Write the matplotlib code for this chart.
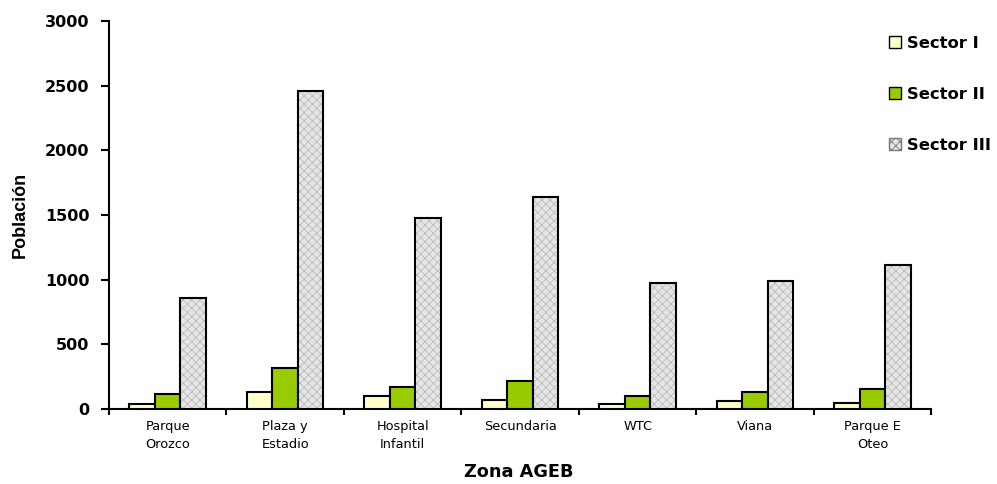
import matplotlib
matplotlib.use("Agg")
import matplotlib.pyplot as plt
import numpy as np
from matplotlib.patches import Patch

categories = ["Parque\nOrozco", "Plaza y\nEstadio", "Hospital\nInfantil", "Secundaria", "WTC", "Viana", "Parque E\nOteo"]
series_names = ["Sector I", "Sector II", "Sector III"]
sector1 = [35, 131, 97, 72, 36, 59, 46]
sector2 = [118, 317, 170, 219, 97, 131, 155]
sector3 = [855, 2462, 1477, 1640, 976, 990, 1115]
yticks = [0, 500, 1000, 1500, 2000, 2500, 3000]

plt.rcParams['font.family'] = ['DejaVu Sans']
plt.rcParams['hatch.linewidth'] = 0.6

fig = plt.figure(figsize=(9.97, 4.84), dpi=100)
ax = fig.add_axes([0.1093, 0.155, 0.825, 0.8016])

x = np.arange(len(categories))
w = 0.217
c1, c2, c3 = "#FFFFCC", "#99CC00", "#E6E6E6"

ax.bar(x - w, sector1, w, color=c1, edgecolor="black", linewidth=1.5, zorder=3)
ax.bar(x, sector2, w, color=c2, edgecolor="black", linewidth=1.5, zorder=3)
ax.bar(x + w, sector3, w, color=c3, edgecolor="#BBBBBB", hatch="xxxx", linewidth=0, zorder=3)
ax.bar(x + w, sector3, w, fill=False, edgecolor="black", linewidth=1.5, zorder=4)

ax.set_xlim(-0.5, len(categories) - 0.5)
ax.set_ylim(0, 3000)
ax.set_yticks(yticks)
ax.set_yticklabels([str(t) for t in yticks], fontsize=11.5, fontweight="bold")
ax.set_xticks(x)
ax.set_xticklabels(categories, fontsize=9.3, linespacing=1.45)
ax.set_xticks(np.arange(len(categories) + 1) - 0.5, minor=True)
ax.tick_params(axis="x", which="major", length=0, pad=8)
ax.tick_params(axis="x", which="minor", length=4, width=1.5, direction="out")
ax.tick_params(axis="y", length=6, width=1.5, pad=8)

for s in ["top", "right"]:
    ax.spines[s].set_visible(False)
for s in ["left", "bottom"]:
    ax.spines[s].set_linewidth(1.5)

fig.text(0.0201, 0.556, "Población", rotation=90, fontsize=13, fontweight="bold",
         family="Liberation Sans", ha="center", va="center")
fig.text(0.52, 0.024, "Zona AGEB", fontsize=12.8, fontweight="bold", ha="center", va="center")

handles = [Patch(facecolor=c1, edgecolor="black"),
           Patch(facecolor=c2, edgecolor="black"),
           Patch(facecolor=c3, edgecolor="#777777", hatch="xxxx")]
leg = fig.legend(handles, series_names, loc="upper left", bbox_to_anchor=(0.877, 0.957),
                 frameon=False, prop={"size": 11.8, "weight": "bold"},
                 handlelength=0.75, handleheight=0.75, handletextpad=0.35, labelspacing=2.2)

fig.savefig("out.png", dpi=100)
